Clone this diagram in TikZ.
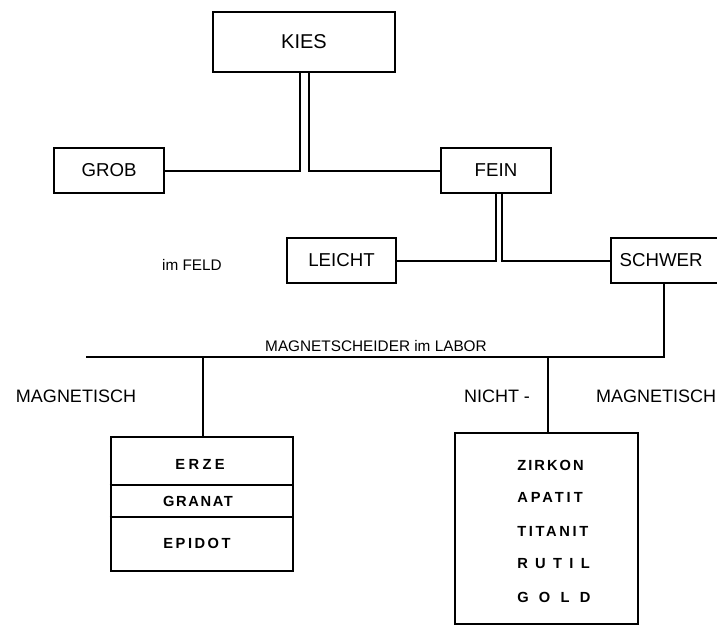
\documentclass[tikz,border=0pt]{standalone}
\usepackage{fontspec}
\setmainfont{Liberation Sans}
\usetikzlibrary{calc}
\newcommand\spacedword[2]{{\bfseries\addfontfeature{LetterSpace=#1}#2}}
\begin{document}
\begin{tikzpicture}[x=0.75pt,y=-0.75pt,
  box/.style={draw,line width=2pt,inner sep=0pt,font=\fontsize{14}{16}\selectfont},
  conn/.style={line width=1.5pt},
  lbl/.style={inner sep=0pt,font=\fontsize{13.5}{15}\selectfont},
  mineral/.style={inner sep=0pt,font=\fontsize{11}{13}\selectfont}]
\useasboundingbox (0,0) rectangle (717,626);
% boxes
\node[box,minimum width=136.5pt,minimum height=45pt,font=\fontsize{15}{17}\selectfont] (kies) at (304,42) {KIES};
\node[box,minimum width=82.5pt,minimum height=33.75pt] (grob) at (109,170.5) {GROB};
\node[box,minimum width=82.5pt,minimum height=33.75pt] (fein) at (496,170.5) {FEIN};
\node[box,minimum width=81.75pt,minimum height=33.75pt] (leicht) at (341.5,260.5) {LEICHT};
\node[box,minimum width=81pt,minimum height=33.75pt,text width=78pt,align=left] (schwer) at (665,260.5) {\hspace*{5pt}SCHWER};
% connectors, double lines
\draw[conn] ($(kies.south)+(-4.5,0)$) |- (grob.east);
\draw[conn] ($(kies.south)+(4.5,0)$) |- (fein.west);
\draw[conn] ($(fein.south)+(0,0)$) |- (leicht.east);
\draw[conn] ($(fein.south)+(6,0)$) |- (schwer.west);
% magnet separator line
\coordinate (lineL) at (86,357);
\coordinate (jL) at (203,357);
\coordinate (jR) at (548,357);
\draw[conn] ($(schwer.south)+(-1,0)$) |- (lineL);
% bottom boxes
\node[draw,line width=2pt,minimum width=136.5pt,minimum height=100.5pt,inner sep=0pt] (mag) at (202,504) {};
\node[draw,line width=1.7pt,minimum width=137.25pt,minimum height=143.25pt,inner sep=0pt] (nmag) at (546.5,528.5) {};
\draw[conn] (jL) -- (jL |- mag.north);
\draw[conn] (jR) -- (jR |- nmag.north);
\draw[line width=1.1pt] (mag.west |- 0,485) -- (mag.east |- 0,485);
\draw[line width=1.1pt] (mag.west |- 0,517) -- (mag.east |- 0,517);
% labels
\node[lbl,font=\fontsize{11.5}{13}\selectfont] (feld) at (192,265) {im FELD};
\node[lbl,font=\fontsize{11.5}{13}\selectfont] (labor) at (376,346) {MAGNETSCHEIDER im LABOR};
\node[lbl] (magl) at (76,396) {MAGNETISCH};
\node[lbl] (nicht) at (497,396) {NICHT -};
\node[lbl] (magr) at (656,396) {MAGNETISCH};
% minerals
\node[mineral] (erze) at (200,464) {\spacedword{23}{ERZE}};
\node[mineral] (granat) at (198,501) {\spacedword{11}{GRANAT}};
\node[mineral] (epidot) at (197,543) {\spacedword{17}{EPIDOT}};
\node[mineral,anchor=west] (zirkon) at (517,465) {\spacedword{14}{ZIRKON}};
\node[mineral,anchor=west] (apatit) at (517,497) {\spacedword{20}{APATIT}};
\node[mineral,anchor=west] (titanit) at (517,531) {\spacedword{18}{TITANIT}};
\node[mineral,anchor=west] (rutil) at (517,564) {\spacedword{50}{RUTIL}};
\node[mineral,anchor=west] (gold) at (517,597) {\spacedword{70}{GOLD}};
\end{tikzpicture}
\end{document}
